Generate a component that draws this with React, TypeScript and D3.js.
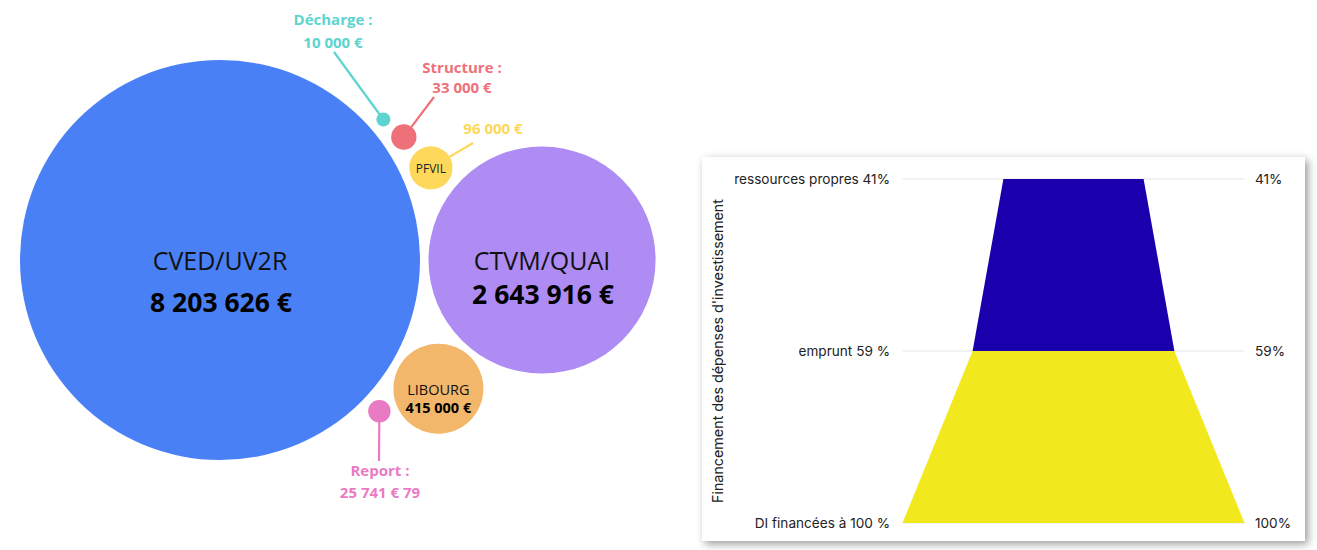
import React from "react";
import * as d3 from "d3";

// ---------- DATA ----------
const bubbleNames = ["CVED/UV2R", "CTVM/QUAI", "PFVIL", "LIBOURG", "Structure", "Décharge", "Report"];
const bubbleValues = [8203626, 2643916, 96000, 415000, 33000, 10000, 25741.79];
const bubbleValueLabels = ["8 203 626 €", "2 643 916 €", "96 000 €", "415 000 €", "33 000 €", "10 000 €", "25 741 € 79"];
const bubbleColors = ["#4a80f5", "#ae8cf4", "#fdd85a", "#f2b76b", "#ee717a", "#5dd4d0", "#e97ac4"];

const funnelStages = ["ressources propres 41%", "emprunt 59 %", "DI financées à 100 %"];
const funnelValues = [41, 59, 100];
const funnelRightLabels = ["41%", "59%", "100%"];
const funnelColors = ["#1a00ad", "#f2e81e"];
const funnelAxisTitle = "Financement des dépenses d'investissement";

// ---------- LAYOUT ----------
const W = 1317;
const H = 550;
const mainCenter = { x: 220, y: 260 };
const gap = 8.5;
// angle (deg) of each satellite bubble around the main one
const bubbleAngles = [0, 0, -23.6, 30.5, -33.8, -40.7, 43.5];

const rScale = d3.scaleSqrt().domain([0, d3.max(bubbleValues) as number]).range([0, 200]);

function bubblePos(i: number) {
  if (i === 0) return { ...mainCenter };
  const r0 = rScale(bubbleValues[0]);
  const d = r0 + rScale(bubbleValues[i]) + gap;
  const a = (bubbleAngles[i] * Math.PI) / 180;
  return { x: mainCenter.x + d * Math.cos(a), y: mainCenter.y + d * Math.sin(a) };
}

const funnelY = d3.scalePoint<string>().domain(funnelStages).range([179, 523]);
const funnelW = d3.scaleLinear().domain([0, 100]).range([0, 342]);
const funnelCx = 1073.5;

export default function App() {
  const font = "'Open Sans', sans-serif";
  const pos = bubbleNames.map((_, i) => bubblePos(i));
  const r = bubbleValues.map((v) => rScale(v));

  // callouts for the small bubbles
  const callouts = [
    { i: 5, lx: 333, ly1: 25, ly2: 48, line: [334, 52] as [number, number], toCenter: true, title: "Décharge :" },
    { i: 4, lx: 462, ly1: 73, ly2: 93, line: [434, 97] as [number, number], toCenter: false, title: "Structure :" },
    { i: 2, lx: 493, ly1: 0, ly2: 134, line: [473, 143] as [number, number], toCenter: false, title: "" },
    { i: 6, lx: 380, ly1: 476, ly2: 498, line: [379, 461] as [number, number], toCenter: true, title: "Report :" },
  ];

  const funnelPolys = [0, 1].map((k) => {
    const yT = funnelY(funnelStages[k]) as number;
    const yB = funnelY(funnelStages[k + 1]) as number;
    const wT = funnelW(funnelValues[k]) / 2;
    const wB = funnelW(funnelValues[k + 1]) / 2;
    return [
      [funnelCx - wT, yT],
      [funnelCx + wT, yT],
      [funnelCx + wB, yB],
      [funnelCx - wB, yB],
    ];
  });
  const line = d3.line();

  return (
    <svg width={W} height={H} style={{ position: "absolute", left: 0, top: 0, background: "#fff" }}>
      <defs>
        <filter id="shadow" x="-5%" y="-5%" width="110%" height="112%">
          <feDropShadow dx="3" dy="3" stdDeviation="4" floodColor="#000" floodOpacity="0.4" />
        </filter>
      </defs>

      {/* callout lines (behind) */}
      {callouts.map((c) => {
        const p = pos[c.i];
        let ex = p.x, ey = p.y;
        if (!c.toCenter) {
          const dx = c.line[0] - p.x, dy = c.line[1] - p.y;
          const d = Math.hypot(dx, dy);
          ex = p.x + (dx / d) * r[c.i];
          ey = p.y + (dy / d) * r[c.i];
        }
        return (
          <line key={"l" + c.i} x1={c.line[0]} y1={c.line[1]} x2={ex} y2={ey}
            stroke={bubbleColors[c.i]} strokeWidth={2.2} />
        );
      })}

      {/* bubbles */}
      {bubbleNames.map((n, i) => (
        <circle key={n} cx={pos[i].x} cy={pos[i].y} r={r[i]} fill={bubbleColors[i]} />
      ))}

      {/* in-bubble labels */}
      <text x={pos[0].x} y={270} textAnchor="middle" fontFamily={font} fontSize={25} fill="#111">{bubbleNames[0]}</text>
      <text x={pos[0].x + 1} y={312} textAnchor="middle" fontFamily={font} fontSize={26.5} fontWeight={700} fill="#000">{bubbleValueLabels[0]}</text>
      <text x={pos[1].x} y={270} textAnchor="middle" fontFamily={font} fontSize={25} fill="#111">{bubbleNames[1]}</text>
      <text x={pos[1].x + 1} y={304} textAnchor="middle" fontFamily={font} fontSize={26.5} fontWeight={700} fill="#000">{bubbleValueLabels[1]}</text>
      <text x={pos[2].x} y={173} textAnchor="middle" fontFamily={font} fontSize={12} fill="#222">{bubbleNames[2]}</text>
      <text x={pos[3].x} y={395} textAnchor="middle" fontFamily={font} fontSize={14.5} fill="#111">{bubbleNames[3]}</text>
      <text x={pos[3].x} y={413} textAnchor="middle" fontFamily={font} fontSize={14.5} fontWeight={700} fill="#000">{bubbleValueLabels[3]}</text>

      {/* callout texts */}
      {callouts.map((c) => (
        <g key={"t" + c.i} fontFamily={font} fontSize={15} fontWeight={700} fill={bubbleColors[c.i]} textAnchor="middle">
          {c.title && <text x={c.lx} y={c.ly1}>{c.title}</text>}
          <text x={c.lx} y={c.ly2}>{bubbleValueLabels[c.i]}</text>
        </g>
      ))}

      {/* funnel card */}
      <rect x={702} y={157} width={603} height={384} fill="#fff" filter="url(#shadow)" />
      {funnelStages.map((s) => (
        <line key={"g" + s} x1={funnelCx - funnelW(100) / 2} x2={funnelCx + funnelW(100) / 2}
          y1={funnelY(s)} y2={funnelY(s)} stroke="#e6e6ea" strokeWidth={1.2} />
      ))}
      {funnelPolys.map((p, k) => (
        <path key={"f" + k} d={line(p as [number, number][]) + "Z"} fill={funnelColors[k]} />
      ))}
      {funnelStages.map((s, k) => (
        <text key={"ls" + k} x={890} y={(funnelY(s) as number) + 5} textAnchor="end"
          fontFamily="Inter, sans-serif" fontSize={13.6} fill="#222">{s}</text>
      ))}
      {funnelRightLabels.map((s, k) => (
        <text key={"rs" + k} x={1255} y={(funnelY(funnelStages[k]) as number) + 5} textAnchor="start"
          fontFamily="Inter, sans-serif" fontSize={13.6} fill="#222">{s}</text>
      ))}
      <text transform={`translate(723, 351) rotate(-90)`} textAnchor="middle"
        fontFamily="Inter, sans-serif" fontSize={14.3} fill="#222">{funnelAxisTitle}</text>
    </svg>
  );
}
